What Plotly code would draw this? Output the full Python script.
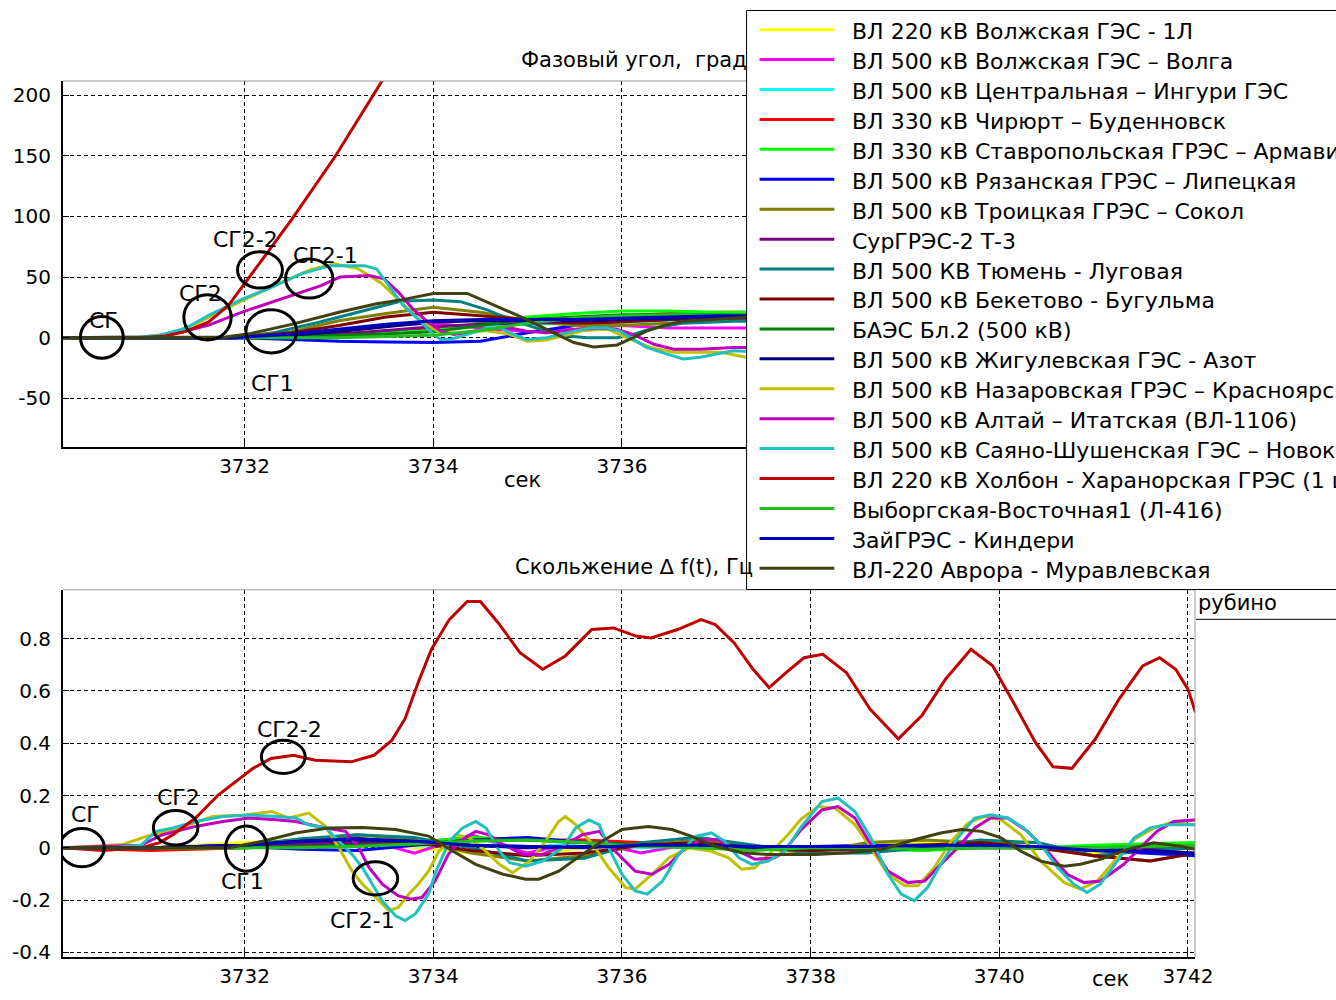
import plotly.graph_objects as go

# ---------------------------------------------------------------- series
names = [
    "ВЛ 220 кВ Волжская ГЭС - 1Л",
    "ВЛ 500 кВ Волжская ГЭС – Волга",
    "ВЛ 500 кВ Центральная – Ингури ГЭС",
    "ВЛ 330 кВ Чирюрт – Буденновск",
    "ВЛ 330 кВ Ставропольская ГРЭС – Армавир",
    "ВЛ 500 кВ Рязанская ГРЭС – Липецкая",
    "ВЛ 500 кВ Троицкая ГРЭС – Сокол",
    "СурГРЭС-2 Т-3",
    "ВЛ 500 КВ Тюмень - Луговая",
    "ВЛ 500 кВ Бекетово - Бугульма",
    "БАЭС Бл.2 (500 кВ)",
    "ВЛ 500 кВ Жигулевская ГЭС - Азот",
    "ВЛ 500 кВ Назаровская ГРЭС – Красноярская",
    "ВЛ 500 кВ Алтай – Итатская (ВЛ-1106)",
    "ВЛ 500 кВ Саяно-Шушенская ГЭС – Новокузнецкая",
    "ВЛ 220 кВ Холбон - Харанорская ГРЭС (1 цепь)",
    "Выборгская-Восточная1 (Л-416)",
    "ЗайГРЭС - Киндери",
    "ВЛ-220 Аврора - Муравлевская",
]
colors = [
    "#ffff00", "#ff00ff", "#00ffff", "#ff0000", "#00ff00", "#0000ff",
    "#808000", "#800080", "#008080", "#800000", "#008000", "#000080",
    "#c0c000", "#c000c0", "#20c0c0", "#c00000", "#20c020", "#0000c0",
    "#404010",
]

# ------------------------------------------------ phase angle, degrees
ang_grid = [3730.0, 3731.9, 3732.5, 3733.0, 3733.5, 3734.0, 3734.5,
            3735.0, 3735.5, 3736.0, 3736.5, 3737.0, 3737.5, 3738.0]
ang_01 = [0, 0, 2, 6, 10, 14, 15, 13, 12, 13, 14, 15, 15, 15]
ang_02 = [0, 0, 2, 6, 10, 12, 8, 5, 7, 10, 8, 8, 8, 8]
ang_03 = [0, 0, 1, 3, 5, 8, 10, 11, 12, 13, 14, 15, 15, 15]
ang_04 = [0, 0, 0, 1, 3, 7, 11, 14, 16, 18, 20, 21, 21, 21]
ang_05 = [0, 0, 0, 2, 4, 6, 12, 17, 20, 22, 22, 21, 21, 21]
ang_06 = [0, 0, -1.5, -3, -3.5, -4, -3, 4, 10, 14, 15, 15, 15, 15]
ang_07 = [0, 0, 5, 14, 20, 25, 21, 14, 10, 10, 12, 14, 15, 15]
ang_08 = [0, 0, 1, 3, 6, 9, 11, 12, 13, 14, 15, 16, 16, 16]
ang_10 = [0, 0, 4, 10, 17, 21, 18, 15, 12, 13, 15, 17, 18, 18]
ang_11 = [0, 0, 1, 2, 3, 5, 10, 15, 17, 19, 19, 19, 19, 19]
ang_12 = [0, 0, 2, 5, 9, 13, 14, 14, 14, 15, 16, 17, 17, 17]
ang_17 = [0, 0, 0, 0, 1, 2, 6, 12, 16, 18, 19, 19, 19, 19]
ang_18 = [0, 0, 3, 7, 11, 14, 15, 15, 15, 16, 17, 18, 18, 18]

ang_09_t = [3730.0, 3731.9, 3732.3, 3732.8, 3733.2, 3733.65, 3734.0, 3734.29,
            3734.57, 3734.82, 3735.14, 3735.42, 3735.63, 3735.95, 3736.12,
            3736.34, 3736.65, 3737.18, 3737.5]
ang_09_v = [0, 0, 4, 13, 21, 30, 31, 29.7, 23, 14.9, 6.8, 1.4, 0, 0, 2.7,
            8, 12, 13.5, 13.5]

ang_13_t = [3730.0, 3730.9, 3731.2, 3731.5, 3731.8, 3732.1, 3732.4, 3732.7,
            3732.95, 3733.2, 3733.45, 3733.65, 3733.85, 3734.05, 3734.3,
            3734.55, 3734.8, 3735.0, 3735.2, 3735.4, 3735.6, 3735.85, 3736.05,
            3736.3, 3736.55, 3736.8, 3737.05, 3737.3, 3737.5]
ang_13_v = [0, 0.5, 3, 12, 24, 35, 46, 56, 61, 57, 45, 30, 15, 5, 3, 6, 3,
            -3, -2, 2, 6, 7, 0, -8, -12, -12, -12, -16, -17]

ang_14_t = [3730.0, 3731.0, 3731.3, 3731.62, 3731.98, 3732.29, 3732.6,
            3732.81, 3733.01, 3733.32, 3733.48, 3733.63, 3733.78, 3733.94,
            3734.09, 3734.22, 3734.54, 3734.82, 3734.99, 3735.2, 3735.52,
            3735.77, 3735.95, 3736.12, 3736.34, 3736.55, 3736.83, 3737.18,
            3737.5]
ang_14_v = [0, 0.5, 4, 10.4, 21.3, 29.5, 37.6, 43, 50, 51.3, 48.5, 37.6, 24,
            13, 5, 2.7, 6.8, 8, 5.4, 4, 6.8, 8, 6.8, 2.7, -5.4, -9.5, -9.5,
            -8, -8]

ang_15_t = [3730.0, 3730.9, 3731.1, 3731.37, 3731.62, 3731.98, 3732.29,
            3732.6, 3732.91, 3733.27, 3733.4, 3733.53, 3733.68, 3733.83,
            3734.0, 3734.08, 3734.18, 3734.36, 3734.57, 3734.71, 3734.85,
            3734.99, 3735.2, 3735.49, 3735.66, 3735.84, 3735.98, 3736.12,
            3736.26, 3736.48, 3736.65, 3736.83, 3737.0, 3737.18, 3737.5]
ang_15_v = [0, 0.5, 2, 7.6, 18.5, 32, 41.7, 52.6, 59.4, 59.4, 56.7, 43,
            26.7, 16, 2.7, -1.4, -1.4, 2.7, 8, 8, 2.7, -1.4, 0, 5.4, 8, 8,
            5.4, -1.4, -8, -13.5, -17.6, -16.2, -13.5, -10.8, -12]

ang_16_t = [3730.0, 3730.9, 3731.16, 3731.37, 3731.62, 3731.83, 3732.14,
            3732.5, 3732.96, 3733.45, 3733.7]
ang_16_v = [0, 0, 1.4, 5, 13, 26.7, 59.4, 97.6, 149.4, 210.8, 245]

ang_19_t = [3730.0, 3731.8, 3732.07, 3732.5, 3733.0, 3733.4, 3733.65, 3734.0,
            3734.36, 3734.71, 3734.96, 3735.24, 3735.49, 3735.7, 3735.95,
            3736.12, 3736.26, 3736.48, 3736.65, 3737.18, 3737.5]
ang_19_v = [0, 0.5, 3.5, 11, 21, 28, 31, 36.5, 36.5, 24.3, 16.2, 5.4, -4,
            -7.6, -6, 0, 5.4, 10.8, 13.5, 16.2, 17.6]

# ------------------------------------------------------- slip, Hz
slip_grid = [3730.08, 3731.0, 3732.0, 3732.6, 3733.2, 3733.8, 3734.4, 3735.0,
             3735.6, 3736.2, 3736.8, 3737.4, 3738.0, 3738.6, 3739.2, 3739.8,
             3740.4, 3741.0, 3741.6, 3742.08]
slip_01 = [0, 0, 0.02, 0.03, 0.04, 0.0, -0.02, -0.03, 0.0, 0.01, 0.0, 0.0,
           0.0, 0.01, 0.02, 0.01, 0.0, -0.02, -0.01, 0.0]
slip_02 = [0, 0, 0.01, 0.03, 0.04, -0.02, 0.05, -0.02, 0.03, -0.02, 0.02,
           0.0, -0.01, 0.01, -0.01, 0.01, 0.0, -0.01, 0.0, 0.0]
slip_03 = [0, 0, 0.01, 0.02, 0.03, 0.01, 0.01, 0.0, 0.02, 0.0, 0.01, 0.0,
           0.0, 0.0, 0.0, 0.01, 0.0, 0.0, 0.0, 0.0]
slip_04 = [0, -0.01, 0.0, 0.01, 0.01, 0.02, 0.04, 0.03, 0.03, 0.02, 0.01,
           0.0, 0.0, 0.0, 0.0, 0.0, 0.0, -0.01, -0.01, 0.0]
slip_05 = [0, 0, 0, 0.005, 0.01, 0.02, 0.04, 0.03, 0.02, 0.01, 0.0, 0.0,
           0.0, -0.005, -0.01, 0.0, 0.0, 0.01, 0.015, 0.02]
slip_06 = [0, 0, 0.005, -0.005, -0.01, 0.01, 0.03, 0.04, 0.02, 0.01, 0.0,
           0.0, 0.005, 0.01, 0.01, 0.005, 0.0, -0.01, -0.02, -0.03]
slip_07 = [0, 0, 0.01, 0.03, 0.05, 0.03, -0.02, -0.05, -0.03, 0.01, 0.03,
           0.0, -0.02, 0.02, 0.03, 0.02, 0.02, -0.03, -0.05, -0.02]
slip_08 = [0, 0, 0.005, 0.015, 0.02, 0.015, 0.01, 0.005, 0.005, 0.01, 0.005,
           0.0, -0.01, -0.005, 0.0, 0.0, 0.0, 0.0, 0.0, 0.0]
slip_09 = [0, 0, 0.01, 0.035, 0.05, 0.04, 0.0, -0.05, -0.04, 0.02, 0.04,
           0.01, -0.02, -0.02, 0.0, 0.03, 0.02, -0.03, -0.01, 0.0]
slip_10 = [0, 0, 0.01, 0.025, 0.035, 0.02, -0.01, -0.03, -0.02, 0.01, 0.02,
           0.0, -0.01, 0.0, 0.01, 0.02, 0.0, -0.03, -0.05, -0.02]
slip_11 = [0, 0, 0, 0.005, 0.01, 0.015, 0.03, 0.03, 0.02, 0.01, 0.0, -0.005,
           0.0, 0.0, 0.0, 0.005, 0.0, 0.0, 0.005, 0.01]
slip_12 = [0, 0, 0.01, 0.025, 0.03, 0.025, 0.01, 0.0, 0.005, 0.01, 0.01, 0.0,
           0.0, 0.0, 0.005, 0.01, 0.0, -0.005, -0.01, -0.02]
slip_17 = [0, 0, 0, 0, 0.005, 0.015, 0.025, 0.03, 0.02, 0.005, 0.0, -0.01,
           0.0, 0.0, -0.005, 0.0, 0.0, 0.0, 0.005, 0.01]
slip_18 = [0, 0, 0.01, 0.025, 0.035, 0.025, 0.01, 0.005, 0.0, 0.01, 0.01,
           0.005, 0.005, 0.005, 0.01, 0.01, 0.005, -0.01, -0.015, -0.025]

slip_13_t = [3730.08, 3730.71, 3730.96, 3731.31, 3731.66, 3732.01, 3732.29,
             3732.47, 3732.68, 3732.86, 3733.0, 3733.14, 3733.25, 3733.39,
             3733.53, 3733.63, 3733.74, 3733.84, 3733.95, 3734.06, 3734.24,
             3734.38, 3734.52, 3734.7, 3734.84, 3735.02, 3735.19, 3735.33,
             3735.4, 3735.51, 3735.69, 3735.86, 3736.04, 3736.14, 3736.32,
             3736.5, 3736.71, 3736.95, 3737.13, 3737.27, 3737.41, 3737.59,
             3737.76, 3737.9, 3738.08, 3738.26, 3738.47, 3738.64, 3738.82,
             3739.0, 3739.14, 3739.31, 3739.49, 3739.67, 3739.84, 3740.02,
             3740.23, 3740.44, 3740.69, 3740.86, 3741.04, 3741.22, 3741.43,
             3741.64, 3741.81, 3742.08]
slip_13_v = [0, 0.013, 0.044, 0.076, 0.12, 0.126, 0.139, 0.114, 0.133, 0.082,
             0.0, -0.089, -0.139, -0.19, -0.24, -0.228, -0.177, -0.139,
             -0.089, -0.013, 0.05, 0.038, 0.0, -0.063, -0.095, -0.051, 0.025,
             0.101, 0.12, 0.089, 0.013, -0.076, -0.152, -0.158, -0.101,
             -0.038, 0.0, -0.013, -0.038, -0.082, -0.076, -0.013, 0.05, 0.11,
             0.158, 0.152, 0.089, 0.0, -0.101, -0.145, -0.145, -0.076, 0.025,
             0.095, 0.12, 0.107, 0.05, -0.051, -0.133, -0.158, -0.127, -0.051,
             0.032, 0.076, 0.095, 0.089]

slip_14_t = [3730.08, 3730.9, 3731.13, 3731.48, 3731.77, 3732.05, 3732.33,
             3732.54, 3732.86, 3733.07, 3733.21, 3733.32, 3733.46, 3733.63,
             3733.77, 3733.88, 3734.02, 3734.16, 3734.28, 3734.45, 3734.59,
             3734.74, 3734.95, 3735.16, 3735.37, 3735.58, 3735.76, 3735.93,
             3736.14, 3736.32, 3736.5, 3736.67, 3736.85, 3737.02, 3737.2,
             3737.41, 3737.62, 3737.7, 3737.9, 3738.12, 3738.29, 3738.47,
             3738.64, 3738.82, 3739.03, 3739.21, 3739.38, 3739.56, 3739.74,
             3739.91, 3740.09, 3740.3, 3740.51, 3740.72, 3740.9, 3741.07,
             3741.32, 3741.5, 3741.67, 3741.85, 3742.08]
slip_14_v = [0, 0.01, 0.05, 0.082, 0.101, 0.114, 0.107, 0.101, 0.076, 0.063,
             0.0, -0.076, -0.139, -0.184, -0.196, -0.19, -0.127, -0.025,
             0.025, 0.063, 0.05, 0.013, -0.025, -0.025, 0.006, 0.05, 0.063,
             -0.013, -0.089, -0.101, -0.063, 0.0, 0.031, 0.031, -0.006,
             -0.044, -0.038, -0.02, 0.07, 0.145, 0.158, 0.114, 0.013, -0.089,
             -0.133, -0.127, -0.063, 0.0, 0.076, 0.114, 0.114, 0.063, -0.013,
             -0.101, -0.133, -0.127, -0.063, 0.0, 0.063, 0.101, 0.107]

slip_15_t = [3730.08, 3730.6, 3730.9, 3731.06, 3731.24, 3731.48, 3731.77,
             3732.05, 3732.33, 3732.54, 3732.68, 3732.86, 3733.0, 3733.14,
             3733.25, 3733.35, 3733.46, 3733.6, 3733.7, 3733.81, 3733.95,
             3734.03, 3734.17, 3734.31, 3734.45, 3734.56, 3734.7, 3734.81,
             3734.98, 3735.16, 3735.37, 3735.51, 3735.65, 3735.76, 3735.86,
             3736.0, 3736.14, 3736.27, 3736.43, 3736.6, 3736.78, 3736.95,
             3737.09, 3737.24, 3737.38, 3737.55, 3737.73, 3737.9, 3738.12,
             3738.29, 3738.47, 3738.64, 3738.82, 3738.96, 3739.1, 3739.24,
             3739.38, 3739.56, 3739.74, 3739.91, 3740.09, 3740.26, 3740.44,
             3740.62, 3740.79, 3740.93, 3741.07, 3741.25, 3741.43, 3741.6,
             3741.78, 3742.08]
slip_15_v = [0, 0, 0.01, 0.063, 0.076, 0.101, 0.12, 0.126, 0.12, 0.114,
             0.088, 0.076, 0.025, -0.025, -0.076, -0.139, -0.203, -0.26,
             -0.278, -0.253, -0.177, -0.089, 0.025, 0.076, 0.101, 0.076,
             -0.013, -0.057, -0.07, -0.051, 0.0, 0.076, 0.107, 0.088, 0.0,
             -0.101, -0.165, -0.177, -0.127, -0.025, 0.044, 0.057, 0.025,
             -0.038, -0.063, -0.051, -0.013, 0.08, 0.177, 0.19, 0.139, 0.038,
             -0.101, -0.177, -0.202, -0.152, -0.063, 0.038, 0.114, 0.126,
             0.114, 0.076, 0.013, -0.076, -0.139, -0.171, -0.139, -0.051,
             0.038, 0.076, 0.088, 0.088]

slip_16_t = [3730.08, 3730.5, 3730.9, 3731.1, 3731.24, 3731.48, 3731.72,
             3731.9, 3732.09, 3732.28, 3732.52, 3732.75, 3733.13, 3733.37,
             3733.56, 3733.7, 3733.84, 3733.98, 3734.17, 3734.36, 3734.5,
             3734.69, 3734.92, 3735.16, 3735.4, 3735.68, 3735.91, 3736.15,
             3736.31, 3736.59, 3736.84, 3736.99, 3737.19, 3737.39, 3737.56,
             3737.74, 3737.93, 3738.13, 3738.38, 3738.63, 3738.93, 3739.18,
             3739.43, 3739.7, 3739.93, 3740.13, 3740.38, 3740.57, 3740.77,
             3741.02, 3741.27, 3741.52, 3741.7, 3741.87, 3742.0, 3742.08]
slip_16_v = [0, -0.01, 0.0, 0.02, 0.05, 0.114, 0.202, 0.253, 0.304, 0.342,
             0.354, 0.335, 0.329, 0.354, 0.411, 0.493, 0.632, 0.759, 0.873,
             0.942, 0.942, 0.86, 0.746, 0.683, 0.734, 0.835, 0.841, 0.81,
             0.803, 0.835, 0.873, 0.854, 0.784, 0.683, 0.613, 0.67, 0.727,
             0.74, 0.67, 0.531, 0.417, 0.506, 0.645, 0.759, 0.696, 0.569,
             0.405, 0.31, 0.304, 0.417, 0.569, 0.696, 0.727, 0.683, 0.607,
             0.518]

slip_19_t = [3730.08, 3731.84, 3732.19, 3732.54, 3732.89, 3733.25, 3733.6,
             3733.95, 3734.21, 3734.45, 3734.74, 3734.98, 3735.12, 3735.33,
             3735.58, 3735.79, 3736.0, 3736.28, 3736.53, 3736.74, 3736.99,
             3737.27, 3737.55, 3738.05, 3738.4, 3738.75, 3739.1, 3739.38,
             3739.6, 3739.81, 3740.02, 3740.23, 3740.44, 3740.69, 3740.86,
             3741.07, 3741.36, 3741.64, 3741.92, 3742.08]
slip_19_v = [0, 0.0, 0.025, 0.057, 0.076, 0.078, 0.07, 0.045, -0.013,
             -0.063, -0.101, -0.12, -0.12, -0.089, -0.025, 0.025, 0.07, 0.082,
             0.07, 0.044, 0.006, -0.019, -0.025, -0.025, -0.019, -0.006,
             0.031, 0.057, 0.07, 0.063, 0.038, -0.013, -0.051, -0.07, -0.063,
             -0.044, -0.006, 0.019, 0.006, -0.006]

angle_series = [
    (ang_grid, ang_01), (ang_grid, ang_02), (ang_grid, ang_03),
    (ang_grid, ang_04), (ang_grid, ang_05), (ang_grid, ang_06),
    (ang_grid, ang_07), (ang_grid, ang_08), (ang_09_t, ang_09_v),
    (ang_grid, ang_10), (ang_grid, ang_11), (ang_grid, ang_12),
    (ang_13_t, ang_13_v), (ang_14_t, ang_14_v), (ang_15_t, ang_15_v),
    (ang_16_t, ang_16_v), (ang_grid, ang_17), (ang_grid, ang_18),
    (ang_19_t, ang_19_v),
]
slip_series = [
    (slip_grid, slip_01), (slip_grid, slip_02), (slip_grid, slip_03),
    (slip_grid, slip_04), (slip_grid, slip_05), (slip_grid, slip_06),
    (slip_grid, slip_07), (slip_grid, slip_08), (slip_grid, slip_09),
    (slip_grid, slip_10), (slip_grid, slip_11), (slip_grid, slip_12),
    (slip_13_t, slip_13_v), (slip_14_t, slip_14_v), (slip_15_t, slip_15_v),
    (slip_16_t, slip_16_v), (slip_grid, slip_17), (slip_grid, slip_18),
    (slip_19_t, slip_19_v),
]

# tick labels
ang_x_ticks = [3732, 3734, 3736]
slip_x_ticks = [3732, 3734, 3736, 3738, 3740, 3742]
ang_ticks = [-50, 0, 50, 100, 150, 200]
ang_tick_text = ["-50", "0", "50", "100", "150", "200"]
slip_ticks = [-0.4, -0.2, 0, 0.2, 0.4, 0.6, 0.8]
slip_tick_text = ["-0.4", "-0.2", "0", "0.2", "0.4", "0.6", "0.8"]

# marked points: (label, centre t, centre value, half-width s, half-height,
#                 label t, label value)
angle_marks = [
    ("СГ",    3730.487, 0.25, 0.227, 17.2, 3730.508, 14.2),
    ("СГ2",   3731.607, 16.8, 0.251, 18.7, 3731.533, 36.3),
    ("СГ2-2", 3732.163, 55.9, 0.238, 15.0, 3732.008, 81.3),
    ("СГ2-1", 3732.685, 48.8, 0.251, 16.1, 3732.854, 68.2),
    ("СГ1",   3732.283, 5.2, 0.269, 17.8, 3732.294, -37.4),
]
slip_marks = [
    ("СГ",    3730.276, 0.001, 0.236, 0.0733, 3730.318, 0.126),
    ("СГ2",   3731.269, 0.077, 0.236, 0.0657, 3731.300, 0.191),
    ("СГ2-2", 3732.410, 0.348, 0.232, 0.0634, 3732.473, 0.453),
    ("СГ1",   3732.019, -0.003, 0.222, 0.0861, 3731.977, -0.128),
    ("СГ2-1", 3733.387, -0.117, 0.236, 0.0634, 3733.255, -0.278),
]

# ---------------------------------------------------------------- layout
W, H = 1336, 1000
ML, MR, MT, MB = 59, 141, 81, 37
PW, PH = W - ML - MR, H - MT - MB


def px(x):
    return (x - ML) / PW


def py(y):
    return (H - MB - y) / PH


FONT = "DejaVu Sans"

fig = go.Figure()
for (t, v), c in zip(angle_series, colors):
    fig.add_trace(go.Scatter(x=t, y=v, mode="lines", xaxis="x", yaxis="y",
                             line=dict(color=c, width=3), showlegend=False,
                             hoverinfo="skip"))
for (t, v), c in zip(slip_series, colors):
    fig.add_trace(go.Scatter(x=t, y=v, mode="lines", xaxis="x2", yaxis="y2",
                             line=dict(color=c, width=3), showlegend=False,
                             hoverinfo="skip"))

axis_common = dict(
    showline=True, linecolor="black", linewidth=2, mirror=False,
    showgrid=True, gridcolor="black", gridwidth=1, griddash="4px,3px",
    zeroline=False, ticks="inside", ticklen=6, tickcolor="black",
    tickfont=dict(family=FONT, size=20, color="black"),
)
x_range = [3730.075, 3742.075]
fig.update_layout(
    width=W, height=H,
    margin=dict(l=ML, r=MR, t=MT, b=MB),
    paper_bgcolor="white", plot_bgcolor="white",
    xaxis=dict(axis_common, domain=[0, 1], anchor="y", range=x_range,
               tickvals=ang_x_ticks, ticklabelstandoff=0),
    yaxis=dict(axis_common, domain=[0.5824, 1], anchor="x", range=[-90, 211.7],
               tickvals=ang_ticks, ticktext=ang_tick_text, ticklabelstandoff=6),
    xaxis2=dict(axis_common, domain=[0, 1], anchor="y2", range=x_range,
                tickvals=slip_x_ticks, ticklabelstandoff=0),
    yaxis2=dict(axis_common, domain=[0, 0.4192], anchor="x2",
                range=[-0.4175, 0.987], tickvals=slip_ticks,
                ticktext=slip_tick_text, ticklabelstandoff=6),
)

shapes = []
annotations = []

# thin box edges on top and right of each axes
for xr, yr in (("x", "y"), ("x2", "y2")):
    shapes.append(dict(type="line", xref=f"{xr} domain", yref=f"{yr} domain",
                       x0=0, x1=1, y0=1, y1=1,
                       line=dict(color="#9a9a9a", width=1)))
    shapes.append(dict(type="line", xref=f"{xr} domain", yref=f"{yr} domain",
                       x0=1, x1=1, y0=0, y1=1,
                       line=dict(color="#9a9a9a", width=1)))

# circled points and their labels
for marks, xr, yr in ((angle_marks, "x", "y"), (slip_marks, "x2", "y2")):
    for lab, cx, cy, rx, ry, lx, ly in marks:
        shapes.append(dict(type="circle", xref=xr, yref=yr,
                           x0=cx - rx, x1=cx + rx, y0=cy - ry, y1=cy + ry,
                           line=dict(color="black", width=3), layer="above"))
        annotations.append(dict(text=lab, xref=xr, yref=yr, x=lx, y=ly,
                                showarrow=False, xanchor="center",
                                yanchor="middle",
                                font=dict(family=FONT, size=22,
                                          color="black")))

# axes titles
annotations += [
    dict(text="Фазовый угол,\u00a0 град", xref="paper", yref="paper",
         x=px(517), y=py(60), xanchor="left", yanchor="middle",
         showarrow=False, font=dict(family=FONT, size=21, color="black")),
    dict(text="Скольжение ∆ f(t), Гц", xref="paper", yref="paper",
         x=px(511), y=py(570), xanchor="left", yanchor="middle",
         showarrow=False, font=dict(family=FONT, size=21, color="black")),
    dict(text="сек", xref="paper", yref="paper", x=px(520), y=py(483),
         xanchor="center", yanchor="middle", showarrow=False,
         font=dict(family=FONT, size=21, color="black")),
    dict(text="сек", xref="paper", yref="paper", x=px(1110), y=py(999),
         xanchor="center", yanchor="bottom", showarrow=False,
         font=dict(family=FONT, size=21, color="black")),
]

# series key drawn over the upper axes
shapes.append(dict(type="rect", xref="paper", yref="paper",
                   x0=px(745), x1=px(1350), y0=py(593), y1=py(10),
                   fillcolor="white", line=dict(color="black", width=1),
                   layer="above"))
row0, row_step = 29.3, 30.13
for i, (nm, c) in enumerate(zip(names, colors)):
    yy = row0 + row_step * i
    shapes.append(dict(type="line", xref="paper", yref="paper",
                       x0=px(758), x1=px(833), y0=py(yy), y1=py(yy),
                       line=dict(color=c, width=3), layer="above"))
    annotations.append(dict(text=nm, xref="paper", yref="paper",
                            x=px(849), y=py(yy + 2), xanchor="left",
                            yanchor="middle", showarrow=False,
                            font=dict(family=FONT, size=22, color="black")))

# remnant of a second key behind the lower axes
shapes.append(dict(type="line", xref="paper", yref="paper",
                   x0=px(1196), x1=px(1350), y0=py(623), y1=py(623),
                   line=dict(color="black", width=1), layer="above"))
annotations.append(dict(text="рубино", xref="paper", yref="paper",
                        x=px(1196), y=py(607), xanchor="left",
                        yanchor="middle", showarrow=False,
                        font=dict(family=FONT, size=21, color="black")))

fig.update_layout(shapes=shapes, annotations=annotations)
fig.write_html("out.html")
